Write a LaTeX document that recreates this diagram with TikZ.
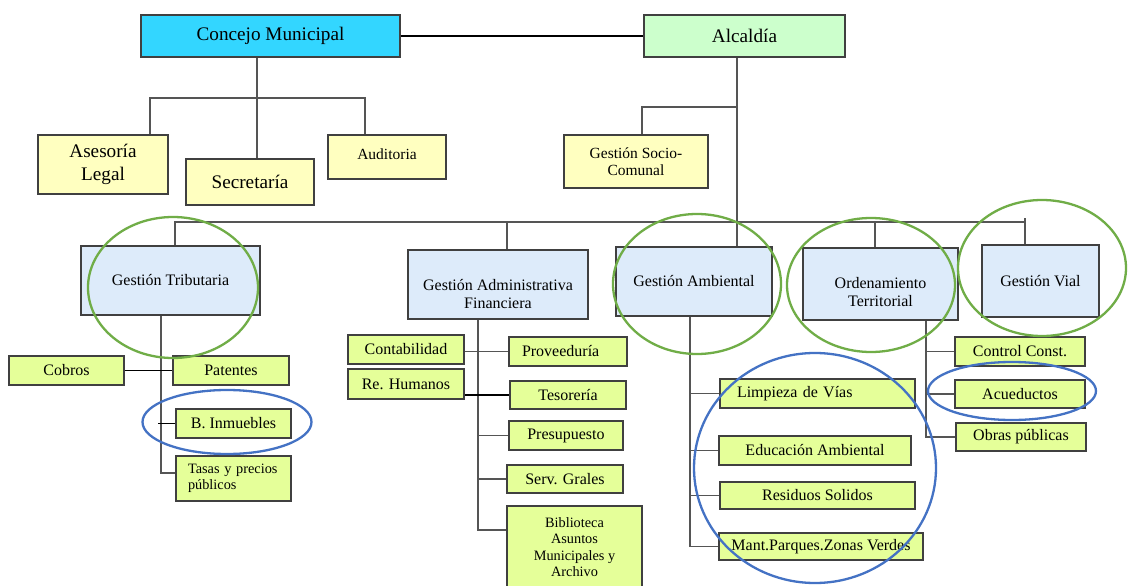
\documentclass[tikz,border=0pt]{standalone}
\usepackage{fontspec}
\setmainfont{Liberation Serif}
\definecolor{cyanbox}{HTML}{33D6FF}
\definecolor{greenbox}{HTML}{CCFFCC}
\definecolor{yelbox}{HTML}{FFFFC0}
\definecolor{bluebox}{HTML}{DDEBFA}
\definecolor{limebox}{HTML}{E5FF99}
\definecolor{bd}{HTML}{404040}
\definecolor{ln}{HTML}{555555}
\definecolor{ringg}{HTML}{70AD47}
\definecolor{ringb}{HTML}{4472C4}
\begin{document}
\begin{tikzpicture}[x=1pt,y=-1pt,
  box/.style={draw=bd, line width=1.1pt, inner sep=0pt, align=center, font=\fontsize{16}{18}\selectfont},
  sz/.style 2 args={minimum width=#1pt, minimum height=#2pt},
  lbox/.style 2 args={minimum width=#1pt, text width=#1pt-2*#2pt, inner xsep=#2pt, align=left},
  big/.style={font=\fontsize{19.2}{23}\selectfont},
  mid/.style={font=\fontsize{15.5}{17.5}\selectfont},
  small/.style={font=\fontsize{14.3}{16.5}\selectfont},
  txt/.style={inner sep=0pt, align=center, font=\fontsize{16}{18}\selectfont},
  yb/.style={box, fill=yelbox},
  bb/.style={box, fill=bluebox},
  lb/.style={box, fill=limebox},
  conn/.style={draw=ln, line width=1.2pt},
  blk/.style={draw=black, line width=1.2pt},
  ring/.style={line width=2.3pt}]
\fill[white] (0,0) rectangle (1128,586);
\useasboundingbox (0,0) rectangle (1128,586);

% junction coordinates
\coordinate (cmj) at (257,98);
\coordinate (cmjL) at (150,98);
\coordinate (cmjR) at (365,98);
\coordinate (alcj) at (737,107);
\coordinate (gscj) at (642,107);
\coordinate (busL) at (175,222);
\coordinate (busR) at (1025,222);
\coordinate (vialtop) at (1025,218);
\coordinate (gafj) at (507,222);
\coordinate (ordj) at (875,222);
\coordinate (gtv) at (161,473);
\coordinate (binx) at (158,421);
\coordinate (gafv) at (478,530);
\coordinate (ambv) at (690,548);
\coordinate (ordv) at (926,440);

% top level
\node[box, big, fill=cyanbox, sz={259}{42}] (cm) at (270.5,36) {Concejo Municipal};
\node[box, big, fill=greenbox, sz={201}{42}] (alc) at (744.5,36) {Alcaldía};
\node[yb, big, sz={130}{59}] (ase) at (103,164.5) {Asesoría\\Legal};
\node[yb, big, sz={128}{46}] (sec) at (250,182) {Secretaría};
\node[yb, mid, sz={118}{44}] (aud) at (387,157) {\raisebox{5pt}{Auditoria}};
\node[yb, mid, sz={144}{53}] (gsc) at (636,161.5) {Gestión Socio-\\Comunal};

% second level
\node[bb, sz={179}{69}] (gt) at (170.5,280.5) {Gestión Tributaria};
\node[bb, sz={180}{69}] (gaf) at (498,284.5) {};
\node[txt] (gaft) at (498,294.5) {Gestión Administrativa\\Financiera};
\node[bb, sz={156}{69}] (amb) at (694,281.5) {Gestión Ambiental};
\node[bb, sz={155}{72}] (ord) at (880.5,284) {};
\node[txt] (ordt) at (880.5,292) {Ordenamiento\\Territorial};
\node[bb, sz={117}{72}] (vial) at (1040.5,281) {Gestión Vial};

% tributaria
\node[lb, sz={115}{29}] (cob) at (66.5,370.5) {Cobros};
\node[lb, sz={116}{29}] (pat) at (231,370.5) {Patentes};
\node[lb, sz={115}{29}] (bin) at (233.5,423.5) {B. Inmuebles};
\node[lb, small, minimum height=45pt, lbox={115}{12}] (tas) at (233.5,478.5) {Tasas y precios\\públicos};

% administrativa
\node[lb, sz={116}{29}] (con) at (406,349.5) {Contabilidad};
\node[lb, minimum height=29pt, lbox={118}{13}] (pro) at (568,351.5) {Proveeduría};
\node[lb, sz={116}{30}] (rh) at (406,384) {Re. Humanos};
\node[lb, sz={116}{28}] (tes) at (568,395) {Tesorería};
\node[lb, sz={114}{29}] (pre) at (566,435.5) {Presupuesto};
\node[lb, sz={116}{28}] (srv) at (565,479) {Serv. Grales};
\node[lb, small, sz={135}{82}] (bib) at (574.5,547) {Biblioteca\\Asuntos\\Municipales y\\Archivo};

% ambiental
\node[lb, minimum height=29pt, lbox={195}{17}] (lim) at (817.5,393.5) {Limpieza de Vías};
\node[lb, sz={192}{29}] (edu) at (815,450.5) {Educación Ambiental};
\node[lb, sz={195}{27}] (res) at (817.5,495.5) {Residuos Solidos};
\node[lb, sz={204}{27}] (man) at (821,546.5) {Mant.Parques.Zonas Verdes};

% ordenamiento
\node[lb, sz={130}{29}] (cc) at (1020,351.5) {Control Const.};
\node[lb, sz={130}{28}] (acu) at (1020,394) {Acueductos};
\node[lb, sz={130}{28}] (obr) at (1021,437) {Obras públicas};

% connectors top
\draw[blk] (cm) -- (alc);
\draw[conn] (cm.south -| cmj) -- (sec.north -| cmj);
\draw[conn] (ase.north -| cmjL) |- (cmjR) -- (aud.north -| cmjR);
\draw[conn] (alc.south -| alcj) -- (amb.north -| alcj);
\draw[conn] (gsc.north -| gscj) |- (alcj);

% bus
\draw[conn] (gt.north -| busL) -- (busL) -- (busR);
\draw[conn] (vialtop) -- (vial.north -| vialtop);
\draw[conn] (gafj) -- (gaf.north -| gafj);
\draw[conn] (ordj) -- (ord.north -| ordj);

% tributaria
\draw[conn] (gt.south -| gtv) -- (gtv) -- (tas.west |- gtv);
\draw[blk] (cob.east) -- (pat.west |- cob.east);
\draw[blk] (bin.west) -- (bin.west -| binx);

% administrativa
\draw[conn] (gaf.south -| gafv) -- (gafv) -- (bib.west |- gafv);
\draw[conn] (pro.west) -- (pro.west -| con.east);
\draw[blk] (tes.west) -- (tes.west -| rh.east);
\draw[conn] (pre.west) -- (pre.west -| gafv);
\draw[conn] (srv.west) -- (srv.west -| gafv);

% ambiental
\draw[conn] (amb.south -| ambv) |- (man.west);
\draw[conn] (lim.west) -- (lim.west -| ambv);
\draw[conn] (edu.west) -- (edu.west -| ambv);
\draw[conn] (res.west) -- (res.west -| ambv);

% ordenamiento
\draw[conn] (ord.south -| ordv) |- (obr.west);
\draw[conn] (cc.west) -- (cc.west -| ordv);
\draw[conn] (acu.west) -- (acu.west -| ordv);

% highlight rings
\draw[ring, ringg] (173,287.5) ellipse [x radius=85pt, y radius=70.5pt];
\draw[ring, ringg] (697,284) ellipse [x radius=84pt, y radius=70pt];
\draw[ring, ringg] (871,285) ellipse [x radius=84pt, y radius=67pt];
\draw[ring, ringg] (1042,268) ellipse [x radius=84pt, y radius=68pt];
\draw[ring, ringb] (227,422) ellipse [x radius=84.5pt, y radius=32pt];
\draw[ring, ringb] (815,468) ellipse [x radius=121pt, y radius=115pt];
\draw[ring, ringb] (1012,391) ellipse [x radius=84pt, y radius=29pt];
\end{tikzpicture}
\end{document}
